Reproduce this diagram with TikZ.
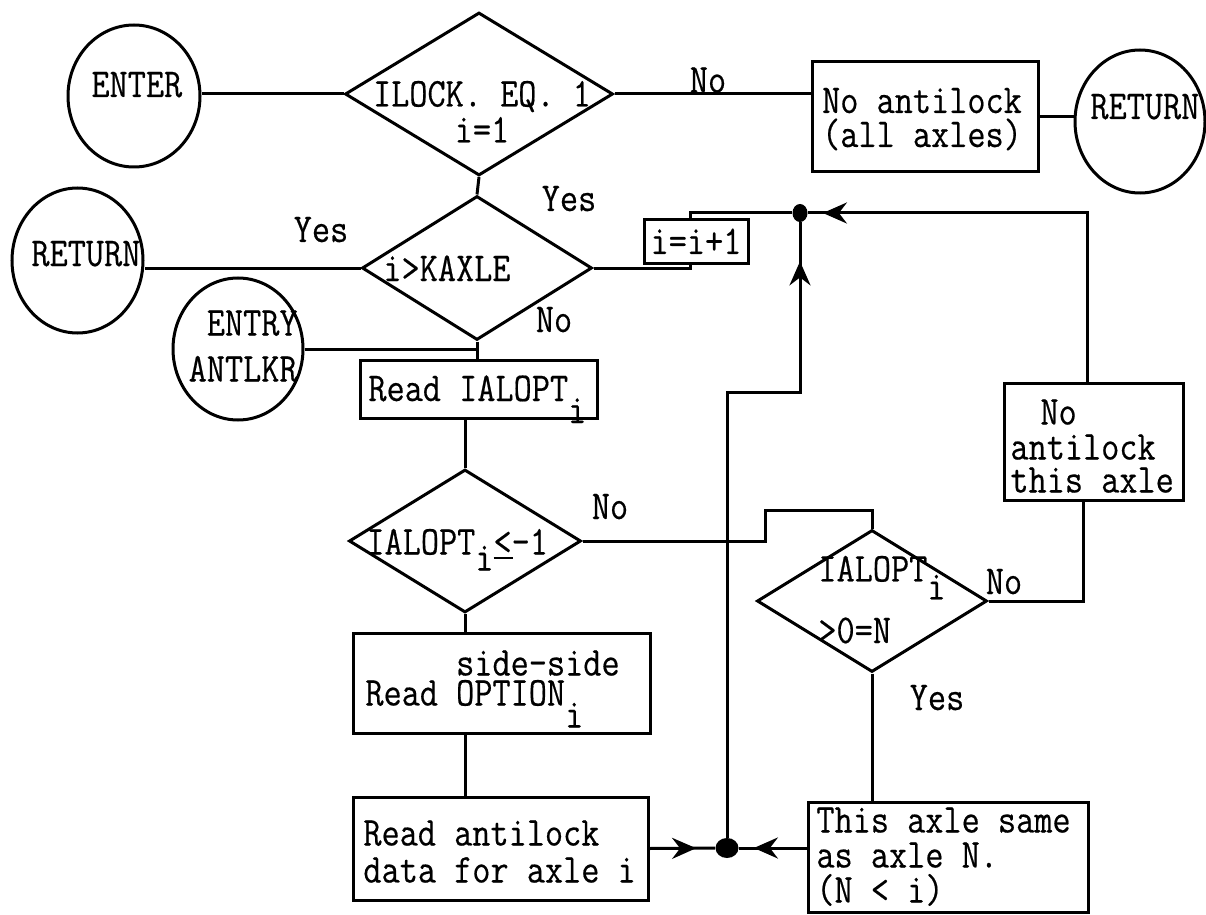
\documentclass[tikz,border=0pt]{standalone}
\usepackage{fontspec}
\newfontfamily\typer[FakeStretch=0.86,FakeBold=0.4]{Latin Modern Mono}
\usetikzlibrary{shapes.geometric,arrows.meta,decorations.markings}
\begin{document}
\begin{tikzpicture}[x=0.5pt,y=-0.5pt,
  font=\typer\fontsize{20.5pt}{18pt}\selectfont,
  line/.style={line width=1.5pt},
  box/.style={draw, rectangle, line width=1.5pt, inner sep=0pt},
  term/.style={draw, ellipse, line width=1.5pt, inner sep=0pt},
  dec/.style={draw, diamond, line width=1.5pt, inner sep=0pt},
  junction/.style={ellipse, fill=black, inner sep=0pt},
  txt/.style={inner sep=0pt, anchor=base west, align=left},
  ctxt/.style={inner sep=0pt, anchor=base, align=center},
  tipat/.style={decoration={markings,
      mark=at position #1 with {\arrow{Stealth[length=12pt,width=10.5pt,inset=4pt]}}},
    postaction={decorate}}]
\useasboundingbox (0,0) rectangle (1206,915);

% terminals (multi-line texts are placed by the baseline of their last line)
\node[term, minimum width=66pt, minimum height=71pt] (enter) at (134,96) {};
\node[txt] (enterT) at (91,97) {ENTER};
\node[term, minimum width=65pt, minimum height=71.5pt] (ret1) at (1140,121.5) {};
\node[txt] (ret1T) at (1090,119) {RETURN};
\node[term, minimum width=65.5pt, minimum height=72.5pt] (ret2) at (77.5,260.5) {};
\node[txt] (ret2T) at (31,266) {RETURN};
\node[term, minimum width=65pt, minimum height=71pt] (entry) at (238,349) {};
\node[inner sep=0pt, anchor=base east, align=right] (entryT) at (298,381.5)
  {ENTRY\\[5pt]ANTLKR};

% decisions
\node[dec, minimum width=134pt, minimum height=81.5pt] (d1) at (479,94) {};
\node[ctxt] (d1T) at (482,142.5) {ILOCK. EQ. 1\\i=1};

\node[dec, minimum width=115pt, minimum height=72pt] (d2) at (477,268) {};
\node[txt] (d2T) at (383,281) {i>KAXLE};

\node[dec, minimum width=116pt, minimum height=71.5pt] (d3) at (465,541) {};
\node[txt] (d3T) at (366,554.5)
  {IALOPT\raisebox{-8pt}{i}\rlap{\rule[-2.2pt]{9.5pt}{1.2pt}}<-1};

\node[dec, minimum width=115pt, minimum height=71pt] (d4) at (872,601) {};
\node[txt] (d4T) at (818,643) {IALOPT\raisebox{-9pt}{i}\\[8pt]>0=N};

% process boxes
\node[box, minimum width=113pt, minimum height=55pt] (b1) at (925,117) {};
\node[ctxt] (b1T) at (922,147) {No antilock\\[-1pt](all axles)};

\node[box, minimum width=52pt, minimum height=21.5pt] (inc) at (696,241.5) {};
\node[ctxt] (incT) at (696,254) {i=i+1};

\node[box, minimum width=118.5pt, minimum height=29pt] (rial) at (478.5,389) {};
\node[txt] (rialT) at (368,401) {Read IALOPT\raisebox{-11pt}{i}};

\node[box, minimum width=89.5pt, minimum height=58.5pt] (nat) at (1093.5,441.5) {};
\node[txt] (natT) at (1010,492.5)
  {\hspace*{15pt}No\\[-0.5pt]antilock\\[-1.5pt]this axle};

\node[box, minimum width=148.5pt, minimum height=50pt] (opt) at (501.5,683) {};
\node[txt] (optT) at (365,705.5)
  {\phantom{Read }side-side\\[-3pt]Read OPTION\raisebox{-11pt}{i}};

\node[box, minimum width=147.5pt, minimum height=51.5pt] (rad) at (500.5,848.5) {};
\node[txt] (radT) at (363,882.5) {Read antilock\\[0.5pt]data for axle i};

\node[box, minimum width=140pt, minimum height=55pt] (same) at (948,857) {};
\node[txt] (sameT) at (816,902.5) {This axle same\\[-0.5pt]as axle N.\\[-0.5pt](N < i)};

% junction dots
\node[junction, minimum width=7.5pt, minimum height=9pt] (j1) at (800,213) {};
\node[junction, minimum width=11.5pt, minimum height=10pt] (j2) at (727,848) {};

% branch labels
\node[ctxt] (l1) at (708,92.5) {No};
\node[ctxt] (l2) at (569,211) {Yes};
\node[ctxt] (l3) at (321,242) {Yes};
\node[ctxt] (l4) at (554,332) {No};
\node[ctxt] (l5) at (610,519) {No};
\node[ctxt] (l6) at (1004,594) {No};
\node[ctxt] (l7) at (937,710) {Yes};

% bend points
\coordinate (c1) at (727,392);
\coordinate (c2) at ([xshift=-3pt]inc.south);
\coordinate (c3) at ([xshift=-5pt]nat.south);
\coordinate (s1) at (765,510);

% connectors
\draw[line] (d1.west) -- (d1.west -| enter.east);
\draw[line] (d1.east) -- (d1.east -| b1.west);
\draw[line] (b1.east) -- (b1.east -| ret1.west);
\draw[line] (d1.south) -- (d2.north);
\draw[line] (d2.west) -- (d2.west -| ret2.east);
\draw[line] (d2.east) -| (c2);
\draw[line] ([xshift=-3pt]inc.north) |- (j1);
\draw[line, tipat=-7.5pt] ([xshift=-3pt]nat.north) |- (j1);
\draw[line, tipat=-19.5pt] (j2) -- (c1) -| (j1);
\draw[line] (d2.south) -- (d2.south |- rial.north);
\draw[line] (entry.east) -- (entry.east -| d2.south);
\draw[line] (d3.north |- rial.south) -- (d3.north);
\draw[line] (d3.south) -- (d3.south |- opt.north);
\draw[line] (d3.south |- opt.south) -- (d3.south |- rad.north);
\draw[line, tipat=-9.5pt] (rad.east) -- (j2);
\draw[line, tipat=-7.5pt] (j2 -| same.west) -- (j2);
\draw[line] (d4.south) -- (d4.south |- same.north);
\draw[line] (d4.east) -| (c3);
\draw[line] (d3.east) -| (s1) -| (d4.north);
\end{tikzpicture}
\end{document}
